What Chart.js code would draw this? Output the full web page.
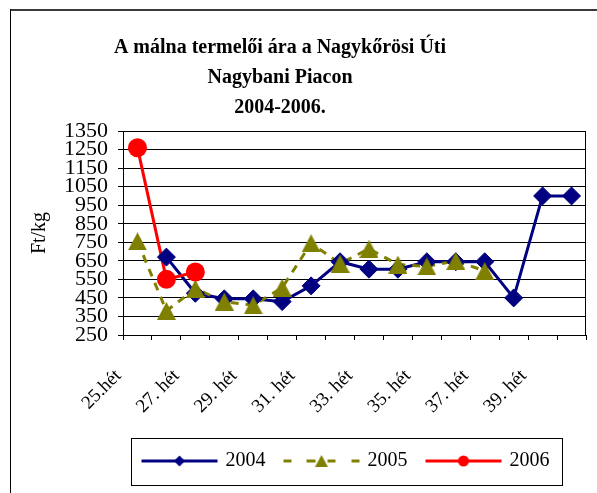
<!DOCTYPE html>
<html>
<head>
<meta charset="utf-8">
<script src="https://cdn.jsdelivr.net/npm/chart.js@4.4.0/dist/chart.umd.min.js"></script>
<style>
  html, body { margin: 0; padding: 0; background: #ffffff; }
  #wrap { width: 597px; height: 493px; position: relative; }
</style>
</head>
<body>
<div id="wrap"><canvas id="c" width="597" height="493"></canvas></div>
<script>
// ---- data ----
const weeks = ['25.hét','26. hét','27. hét','28. hét','29. hét','30. hét','31. hét','32. hét',
               '33. hét','34. hét','35. hét','36. hét','37. hét','38. hét','39. hét','40. hét'];
const xTickLabels = ['25.hét','','27. hét','','29. hét','','31. hét','','33. hét','','35. hét','',
                     '37. hét','','39. hét',''];
const price2004 = [null, 670, 475, 445, 445, 430, 515, 645, 605, 605, 645, 645, 645, 450, 1000, 1000];
const price2005 = [755, 380, 500, 430, 410, 505, 745, 635, 715, 630, 620, 650, 595, null, null, null];
const price2006 = [1260, 550, 590, null, null, null, null, null, null, null, null, null, null, null, null, null];
const seriesNames = ['2004', '2005', '2006'];
const titleLines = ['A málna termelői ára a Nagykőrösi Úti', 'Nagybani Piacon', '2004-2006.'];
const yTitle = 'Ft/kg';
const yMin = 250, yMax = 1350, yStep = 100;

// ---- styles ----
const NAVY = '#000080', OLIVE = '#808000', RED = '#FF0000';
const FONT = '"Liberation Serif", "Times New Roman", serif';

function triangleImg(w, h, color) {
  const c = document.createElement('canvas');
  c.width = w; c.height = h;
  const g = c.getContext('2d');
  g.fillStyle = color;
  g.beginPath();
  g.moveTo(w / 2, 0); g.lineTo(w, h); g.lineTo(0, h); g.closePath();
  g.fill();
  return c;
}
function legendSample(kind) {
  const c = document.createElement('canvas');
  c.width = 78; c.height = 20;
  const g = c.getContext('2d');
  const y = 10;
  g.lineWidth = 3;
  if (kind === 0) {
    g.strokeStyle = NAVY;
    g.beginPath(); g.moveTo(1, y); g.lineTo(77, y); g.stroke();
    g.fillStyle = NAVY;
    g.beginPath(); g.moveTo(39 - 5.5, y); g.lineTo(39, y - 5.5); g.lineTo(39 + 5.5, y); g.lineTo(39, y + 5.5); g.closePath(); g.fill();
  } else if (kind === 1) {
    g.strokeStyle = OLIVE;
    const segs = [[1, 9], [24, 33], [45, 53], [69, 77]];
    g.beginPath();
    segs.forEach(s => { g.moveTo(s[0], y); g.lineTo(s[1], y); });
    g.stroke();
    g.fillStyle = OLIVE;
    g.beginPath(); g.moveTo(39, y - 6); g.lineTo(45.5, y + 6); g.lineTo(32.5, y + 6); g.closePath(); g.fill();
  } else {
    g.strokeStyle = RED;
    g.beginPath(); g.moveTo(1, y); g.lineTo(77, y); g.stroke();
    g.fillStyle = RED;
    g.beginPath(); g.arc(39, y, 5.5, 0, Math.PI * 2); g.fill();
  }
  return c;
}
const triMarker = triangleImg(19, 18, OLIVE);
const samples = [legendSample(0), legendSample(1), legendSample(2)];

const framePlugin = {
  id: 'frames',
  afterLayout(chart) {
    const t = chart.titleBlock;
    if (t) { t.left = 12; t.right = 548; }
    const l = chart.legend;
    if (l) { l.left = 123; l.right = 570; }
  },
  afterDraw(chart) {
    const ctx = chart.ctx;
    const a = chart.chartArea;
    ctx.save();
    // plot frame right side
    ctx.strokeStyle = '#000'; ctx.lineWidth = 1;
    ctx.beginPath();
    ctx.moveTo(Math.round(a.right) - 0.5, a.top);
    ctx.lineTo(Math.round(a.right) - 0.5, a.bottom);
    ctx.stroke();
    // legend box
    const l = chart.legend;
    if (l) {
      const lab = l.options.labels;
      const cy = l.top + lab.padding + lab.font.size / 2;
      const cx = (l.left + l.right) / 2;
      ctx.strokeRect(Math.round(cx - 215.5) + 0.5, Math.round(cy - 23) + 0.5, 431, 47);
    }
    // outer chart frame (top and left visible)
    ctx.strokeStyle = '#3a3a3a'; ctx.lineWidth = 2;
    ctx.beginPath(); ctx.moveTo(10, 10); ctx.lineTo(chart.width, 10); ctx.stroke();
    ctx.strokeStyle = '#000'; ctx.lineWidth = 1;
    ctx.beginPath(); ctx.moveTo(10.5, 9); ctx.lineTo(10.5, chart.height); ctx.stroke();
    ctx.restore();
  }
};

new Chart(document.getElementById('c'), {
  type: 'line',
  data: {
    labels: weeks,
    datasets: [
      { label: seriesNames[0], data: price2004, borderColor: NAVY, borderWidth: 3, pointRadius: 0, fill: false, order: 6 },
      { label: seriesNames[1], data: price2005, borderColor: OLIVE, borderWidth: 3, borderDash: [8, 7], pointRadius: 0, fill: false, order: 5 },
      { label: seriesNames[2], data: price2006, borderColor: RED, borderWidth: 3, pointRadius: 0, fill: false, order: 4 },
      { label: seriesNames[0] + ' m', data: price2004, showLine: false, pointStyle: 'rectRot', pointRadius: 9,
        pointBackgroundColor: NAVY, pointBorderColor: NAVY, pointBorderWidth: 1, order: 3 },
      { label: seriesNames[1] + ' m', data: price2005, showLine: false, pointStyle: triMarker, pointRadius: 10,
        pointBackgroundColor: OLIVE, pointBorderColor: OLIVE, order: 2 },
      { label: seriesNames[2] + ' m', data: price2006, showLine: false, pointStyle: 'circle', pointRadius: 9.5,
        pointBackgroundColor: RED, pointBorderColor: RED, pointBorderWidth: 0, order: 1 }
    ]
  },
  options: {
    responsive: false,
    animation: false,
    events: [],
    layout: { padding: { left: 12, right: 8, top: 0, bottom: 12 } },
    plugins: {
      tooltip: { enabled: false },
      title: {
        display: true, text: titleLines, color: '#000',
        font: { family: FONT, size: 20, weight: 'bold', lineHeight: 1.5 },
        padding: { top: 33, bottom: 8 }
      },
      legend: {
        display: true, position: 'bottom',
        labels: {
          usePointStyle: true, pointStyleWidth: 72, padding: 20, color: '#000',
          font: { family: FONT, size: 20 },
          generateLabels: () => seriesNames.map((n, i) => ({
            text: n, pointStyle: samples[i], fillStyle: 'rgba(0,0,0,0)', strokeStyle: 'rgba(0,0,0,0)',
            lineWidth: 0, hidden: false, datasetIndex: i, fontColor: '#000'
          }))
        }
      }
    },
    scales: {
      x: {
        type: 'category', offset: true,
        grid: { display: true, drawOnChartArea: false, drawTicks: true, tickLength: 5, color: '#000', offset: true },
        border: { display: true, color: '#000', width: 1 },
        ticks: {
          autoSkip: false, maxRotation: 45, minRotation: 45, padding: 25, labelOffset: -19,
          color: '#000', font: { family: FONT, size: 19 },
          callback: (v, i) => xTickLabels[i]
        },
        afterFit: s => { s.height = 96; s.paddingLeft = 0; s.paddingRight = 0; }
      },
      y: {
        min: yMin, max: yMax,
        ticks: { stepSize: yStep, autoSkip: false, color: '#000', font: { family: FONT, size: 22, lineHeight: 1 }, padding: 10,
                 callback: v => String(v) },
        grid: { color: '#000', lineWidth: 1, drawTicks: true, tickLength: 5 },
        border: { display: true, color: '#000', width: 1 },
        title: { display: true, text: yTitle, color: '#000', font: { family: FONT, size: 20 }, padding: { top: 16, bottom: 0 } },
        afterFit: s => { s.width = 111; s.paddingTop = 0; s.paddingBottom = 0; }
      }
    }
  },
  plugins: [framePlugin]
});
</script>
</body>
</html>
